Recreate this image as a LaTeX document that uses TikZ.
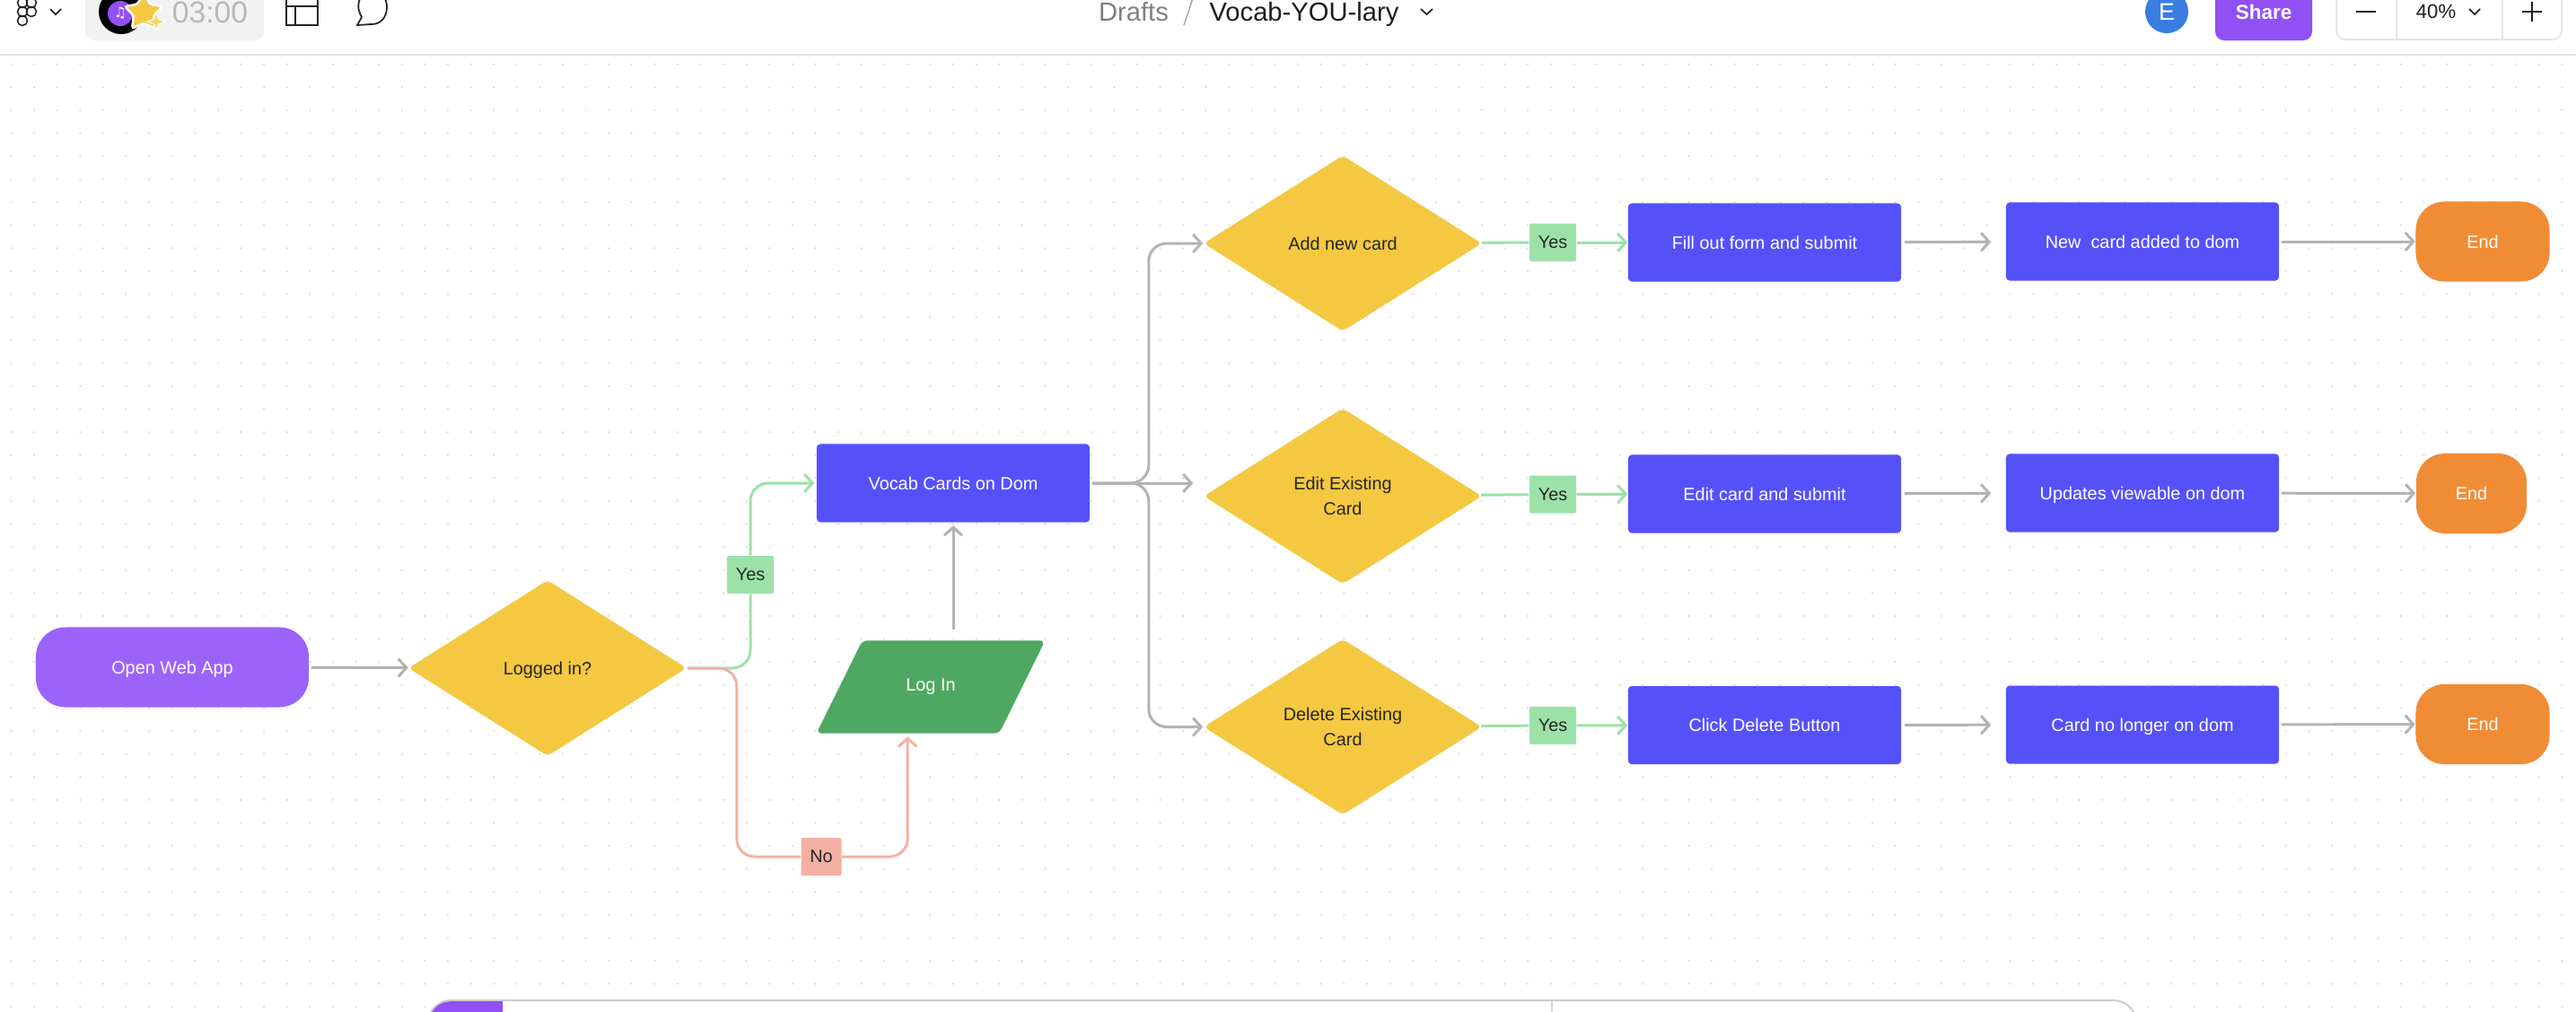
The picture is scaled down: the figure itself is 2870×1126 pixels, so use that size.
\documentclass[tikz,border=0pt]{standalone}
\usepackage{fontspec}
\setmainfont{Liberation Sans}
\newfontfamily\symbfont{DejaVu Sans}
\usetikzlibrary{arrows.meta,shapes.geometric,calc}
\definecolor{blueBox}{HTML}{5551F9}
\definecolor{yellowBox}{HTML}{F5C842}
\definecolor{greenBox}{HTML}{4FA862}
\definecolor{orangeBox}{HTML}{F08C36}
\definecolor{violetBox}{HTML}{9C63FA}
\definecolor{violetBar}{HTML}{9050F5}
\definecolor{userBlue}{HTML}{3A7DE0}
\definecolor{greyLine}{HTML}{B3B3B3}
\definecolor{yesLine}{HTML}{9CE2A8}
\definecolor{noLine}{HTML}{F3B0A2}
\definecolor{barLine}{HTML}{E5E5E5}
\tikzset{
  flowtext/.style={inner sep=0pt,font=\fontsize{5.65}{8.1}\selectfont},
  box/.style={flowtext,rectangle,rounded corners=0.04cm,fill=blueBox,text=white,text depth=0pt,
    minimum width=3.04cm,minimum height=0.87cm},
  decision/.style={flowtext,diamond,aspect=1.58,rounded corners=0.05cm,fill=yellowBox,text=black!85,
    minimum width=3.1cm,minimum height=1.96cm,align=center},
  finish/.style={flowtext,rectangle,rounded corners=0.32cm,fill=orangeBox,text=white,text depth=0pt,
    minimum height=0.89cm},
  tagyes/.style={flowtext,rectangle,rounded corners=0.02cm,fill=yesLine,text=black!85,text depth=0pt,
    minimum width=0.52cm,minimum height=0.42cm},
  tagno/.style={tagyes,fill=noLine,minimum width=0.45cm},
  barb/.style={-{Straight Barb[length=0.09cm,width=0.2cm,line width=0.85pt]}},
  flowline/.style={draw=greyLine,line width=0.85pt,rounded corners=0.2cm},
  yesflow/.style={draw=yesLine,line width=0.85pt,rounded corners=0.2cm},
  noflow/.style={draw=noLine,line width=0.85pt,rounded corners=0.2cm},
  bartext/.style={inner sep=0pt,anchor=base,font=\fontsize{8.3}{10}\selectfont},
  chev/.style={draw=black!85,line width=0.5pt},
}
\begin{document}
\begin{tikzpicture}[x=0.01cm,y=-0.01cm]
    \useasboundingbox (0,0) rectangle (2870,1126);
    \fill[white] (0,0) rectangle (2870,1126);
    % canvas dots
    \foreach \ii in {0,...,111}{%
      \foreach \jj in {0,...,41}{%
        \fill[black!18] ({12.5+25.6*\ii},{71.6+25.6*\jj}) circle (1);}}
    % top bar
    \draw[barLine,line width=0.55pt] (0,61) -- (2870,61);
    % figma logo
    \draw[black!85,line width=0.45pt] (25,3) circle (5.5) (35,3) circle (5.5) (25,13) circle (5.5) (35,13) circle (5.5) (25,23) circle (5.5);
    \draw[chev] (56,10) -- (62,16) -- (68,10);
    % timer
    \fill[black!5] (95,-10) [rounded corners=0.1cm] -- (95,45) -- (294,45) [sharp corners] -- (294,-10) -- cycle;
    \fill[black] (135,13) circle (25);
    \fill[violetBar] (134,15) circle (14);
    \node[text=white,inner sep=0pt,font=\symbfont\fontsize{4.5}{5}\selectfont] (note) at (134,15) {♫};
    \node[star,star points=5,star point ratio=1.9,fill=yellowBox,draw=white,line width=0.7pt,rounded corners=0.03cm,inner sep=0pt,minimum size=0.44cm] (bigstar) at (160,14) {};
    \node[star,star points=4,star point ratio=2.6,fill=yellowBox!75!white,draw=white,line width=0.3pt,inner sep=0pt,minimum size=0.2cm] (smallstar) at (174,24) {};
    \node[bartext,anchor=center,text=black!28,font=\fontsize{9.6}{10}\selectfont] (timer) at (234,14) {03:00};
    % layout and comment icons
    \draw[black!85,line width=0.6pt] (319,-5) rectangle (354,28) (319,7) -- (354,7) (329,7) -- (329,28);
    \draw[black!85,line width=0.5pt] (398,28) -- (403,19) .. controls (393,2) and (405,-12) .. (416,-11) .. controls (436,-10) and (437,28) .. (413,27) -- cycle;
    % file name
    \node[bartext,text=black!50] (drafts) at (1263,23) {Drafts};
    \draw[black!35,line width=0.4pt] (1330,-5) -- (1319,28);
    \node[bartext,text=black!88] (filename) at (1453,23) {Vocab-YOU-lary};
    \draw[chev] (1583,10) -- (1589.5,16) -- (1596,10);
    % user and share
    \node[circle,fill=userBlue,text=white,inner sep=0pt,minimum size=0.48cm,font=\fontsize{7.6}{8}\selectfont] (user) at (2414,13) {E};
    \fill[violetBar] (2468,-10) [rounded corners=0.1cm] -- (2468,45) -- (2576,45) [sharp corners] -- (2576,-10) -- cycle;
    \node[text=white,inner sep=0pt,font=\fontsize{6.4}{8}\bfseries\selectfont] (share) at (2522,13) {Share};
    % zoom control
    \draw[barLine,line width=0.55pt,rounded corners=0.1cm] (2603,-10) -- (2603,44) -- (2854,44) -- (2854,-10);
    \draw[barLine,line width=0.55pt] (2670,-5) -- (2670,44) (2788,-5) -- (2788,44);
    \draw[black!88,line width=0.55pt] (2625,13) -- (2647,13) (2810,13) -- (2832,13) (2821,2) -- (2821,24);
    \node[text=black!88,inner sep=0pt,font=\fontsize{6.3}{8}\selectfont] (percent) at (2714,13) {40\%};
    \draw[chev] (2751,10) -- (2757,16) -- (2763,10);
    % bottom panel
    \fill[white] (477,1200) [rounded corners=0.25cm] -- (477,1114) -- (2380,1114) [sharp corners] -- (2380,1200) -- cycle;
    \fill[violetBar] (477,1200) [rounded corners=0.25cm] -- (477,1115) [sharp corners] -- (560,1115) -- (560,1200) -- cycle;
    \draw[black!20,line width=0.55pt,rounded corners=0.25cm] (477,1200) -- (477,1114) -- (2380,1114) -- (2380,1200);
    \draw[black!15,line width=0.3pt] (1729,1115) -- (1729,1130);
    % nodes of the flow
    \node[flowtext,rectangle,rounded corners=0.33cm,fill=violetBox,text=white,text depth=0pt,
      minimum width=3.04cm,minimum height=0.89cm] (webapp) at (192,743) {Open Web App};
    \node[decision,text depth=0pt] (logged) at (610,744) {Logged in?};
    \node[box] (vocab) at (1062,538) {Vocab Cards on Dom};
    \node[flowtext,trapezium,trapezium left angle=44,trapezium right angle=136,trapezium stretches=true,fill=greenBox,text=white,
      rounded corners=0.05cm,minimum width=2.55cm,minimum height=1.03cm] (login) at (1037,765) {Log In};
    \node[tagyes] (yeslog) at (836,640) {Yes};
    \node[tagno] (nolog) at (915,954) {No};
    % add row
    \node[decision,text depth=0pt] (addcard) at (1496,271) {Add new card};
    \node[tagyes] (yesadd) at (1730,270) {Yes};
    \node[box] (fillform) at (1966,270) {Fill out form and submit};
    \node[box] (newcard) at (2387,269) {New\ \ card added to dom};
    \node[finish,minimum width=1.49cm] (endadd) at (2766,269) {End};
    % edit row
    \node[decision,align=center] (editcard) at (1496,552.5) {Edit Existing\\Card};
    \node[tagyes] (yesedit) at (1730,550.5) {Yes};
    \node[box] (editform) at (1966,550) {Edit card and submit};
    \node[box] (updates) at (2387,549) {Updates viewable on dom};
    \node[finish,minimum width=1.23cm] (endedit) at (2753.5,549.5) {End};
    % delete row
    \node[decision,align=center] (delcard) at (1496,809.5) {Delete Existing\\Card};
    \node[tagyes] (yesdel) at (1730,808) {Yes};
    \node[box] (delbutton) at (1966,807.5) {Click Delete Button};
    \node[box] (nodom) at (2387,807) {Card no longer on dom};
    \node[finish,minimum width=1.49cm] (enddel) at (2766,806.5) {End};
    % connectors
    \draw[flowline,barb,shorten <=0.02cm] (webapp) -- (logged);
    \draw[yesflow] (logged.east) -| (yeslog);
    \draw[yesflow,barb,shorten >=0.02cm] (yeslog) |- (vocab.west);
    \draw[noflow] (logged.east) -- ++(55,0) |- (nolog);
    \draw[noflow,barb,shorten >=0.03cm] (nolog) -| (login.bottom side);
    \draw[flowline,barb,shorten <=0.12cm,shorten >=0.03cm] (login.north -| vocab.south) -- (vocab.south);
    \draw[flowline,barb,shorten <=0.02cm] (vocab.east) -- ++(65,0) |- (addcard.west);
    \draw[flowline,barb,shorten <=0.02cm,shorten >=0.11cm] (vocab.east) -- (vocab.east -| editcard.west);
    \draw[flowline,barb,shorten <=0.02cm] (vocab.east) -- ++(65,0) |- (delcard.west);
    \foreach \cardname/\yesname/\formname/\resname/\endname in {addcard/yesadd/fillform/newcard/endadd,editcard/yesedit/editform/updates/endedit,delcard/yesdel/delbutton/nodom/enddel}{%
      \draw[yesflow] (\cardname) -- (\yesname);
      \draw[yesflow,barb] (\yesname) -- (\formname);
      \draw[flowline,barb,shorten <=0.03cm,shorten >=0.16cm] (\formname) -- (\resname);
      \draw[flowline,barb,shorten <=0.02cm] (\resname) -- (\endname);}
\end{tikzpicture}
\end{document}
